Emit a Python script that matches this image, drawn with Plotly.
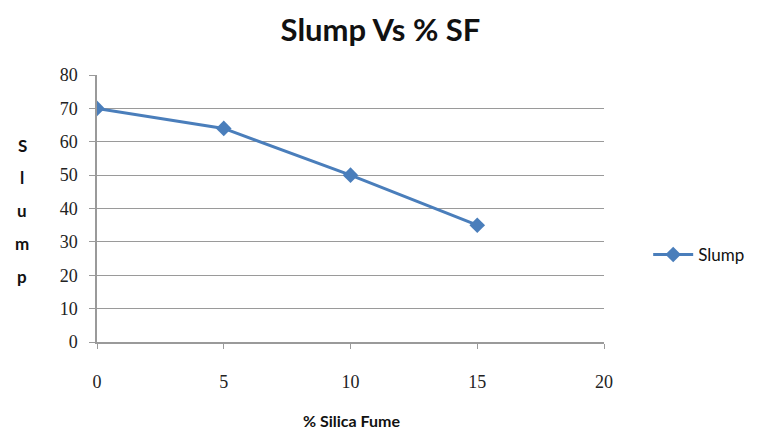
import plotly.graph_objects as go

silica_fume = [0, 5, 10, 15]
slump = [70, 64, 50, 35]
x_ticks = [0, 5, 10, 15, 20]
y_ticks = [0, 10, 20, 30, 40, 50, 60, 70, 80]
y_title_letters = ["S", "l", "u", "m", "p"]

fig = go.Figure()
fig.add_trace(go.Scatter(
    x=silica_fume, y=slump, name="Slump", mode="lines+markers",
    line=dict(color="#4A7EBB", width=3),
    marker=dict(symbol="diamond", size=12, color="#4A7EBB"),
))

fig.update_layout(
    width=761, height=432,
    margin=dict(l=97, r=156, t=75, b=90),
    paper_bgcolor="white", plot_bgcolor="white",
    title=dict(text="<b>Slump Vs % SF</b>", x=0.5, xanchor="center", y=0.93, yanchor="middle",
               font=dict(family="Lato", size=31, color="#111111")),
    showlegend=True,
    legend=dict(x=1.085, y=0.326, xanchor="left", yanchor="middle", itemwidth=40,
                font=dict(family="Lato", size=17, color="#111111"), bgcolor="rgba(0,0,0,0)"),
    xaxis=dict(range=[0, 20], tickvals=x_ticks, showgrid=False, zeroline=False, automargin=False,
               showline=True, linecolor="#9a9a9a", linewidth=1.5,
               ticks="outside", ticklen=5, tickcolor="#9a9a9a", ticklabelstandoff=18,
               tickfont=dict(family="Liberation Serif", size=18, color="#222222")),
    yaxis=dict(range=[0, 80], tickvals=y_ticks, showgrid=True, gridcolor="#9a9a9a", gridwidth=1.2,
               zeroline=False, showline=True, linecolor="#9a9a9a", linewidth=1.5, automargin=False,
               ticks="outside", ticklen=6, tickcolor="#9a9a9a", ticklabelstandoff=8,
               tickfont=dict(family="Liberation Serif", size=18, color="#222222")),
)

fig.add_annotation(text="<b>% Silica Fume</b>", xref="paper", yref="paper",
                   x=(352 - 97) / 508, y=(342 - 420) / 267, xanchor="center", yanchor="middle",
                   showarrow=False, font=dict(family="Lato", size=16, color="#111111"))

letter_px = [145, 177, 210, 243, 276]
for letter, py in zip(y_title_letters, letter_px):
    fig.add_annotation(text="<b>" + letter + "</b>", xref="paper", yref="paper",
                       x=(22 - 97) / 508, y=(342 - py) / 267, xanchor="center", yanchor="middle",
                       showarrow=False, font=dict(family="Lato", size=17, color="#111111"))

fig.write_html("out.html")
